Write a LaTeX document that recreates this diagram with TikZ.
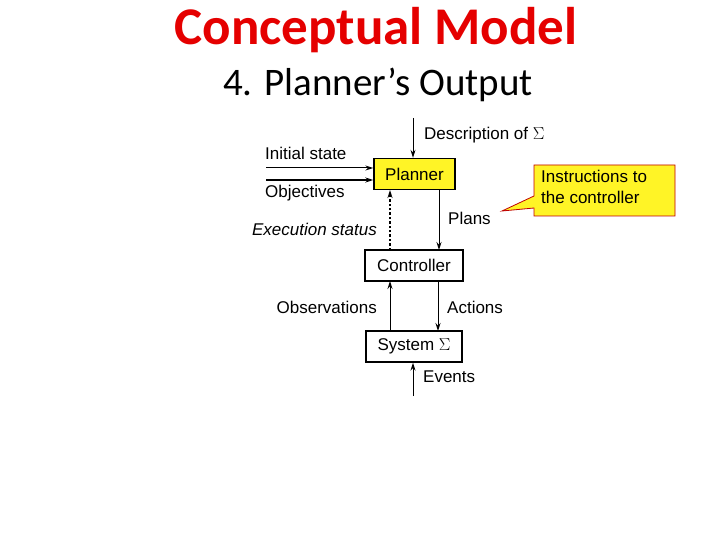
\documentclass[tikz,border=0pt]{standalone}
\usepackage{fontspec}
\setmainfont{Liberation Sans}
\newfontfamily\titlefont{Carlito}
\usetikzlibrary{arrows.meta}
\begin{document}
\begin{tikzpicture}[x=1pt,y=-1pt,
  box/.style={draw,line width=1.4pt,minimum height=31pt,inner sep=0pt,font=\fontsize{17}{19}\selectfont},
  lbl/.style={inner sep=0pt,font=\fontsize{17}{19}\selectfont},
  arr/.style={-{Stealth[length=8pt,width=5pt]},line width=1pt}]
\useasboundingbox[fill=white] (0,0) rectangle (720,540);
\node[font=\titlefont\bfseries\fontsize{53}{58}\selectfont,text=red!90!black] (t) at (376,30) {Conceptual Model};
\node[font=\titlefont\fontsize{39}{44}\selectfont] (s) at (378,85) {4. Planner’s Output};
\node[box,fill=yellow!85!white,minimum width=81pt] (p) at (414.5,174) {Planner};
\node[box,minimum width=98pt] (c) at (414,265.5) {Controller};
\node[box,minimum width=96pt] (sy) at (414,346.5) {System $\Sigma$};
\coordinate (d0) at (413,118);
\coordinate (e0) at (413,396);
\coordinate (i0) at (266,168);
\coordinate (o0) at (266,180);
\draw[arr] (d0) -- (d0|-p.north);
\draw[arr] (e0) -- (e0|-sy.south);
\draw[arr] (i0) -- (i0-|p.west);
\draw[arr,line width=1.8pt] (o0) -- (o0-|p.west);
\draw[arr,line width=2.4pt,dotted] (390,250) -- (390,190);
\draw[arr] (439,190) -- (439,250);
\draw[arr] (390,331) -- (390,281);
\draw[arr] (438,281) -- (438,331);
\node[lbl,anchor=west] (ld) at (424,135) {Description of $\Sigma$};
\node[lbl,anchor=west] (li) at (265,153) {Initial state};
\node[lbl,anchor=west] (lo) at (265,193) {Objectives};
\node[lbl,anchor=east,font=\itshape\fontsize{17}{19}\selectfont] (lx) at (377,229) {Execution status};
\node[lbl,anchor=west] (lp) at (448,218) {Plans};
\node[lbl,anchor=east] (lob) at (377,307) {Observations};
\node[lbl,anchor=west] (la) at (447,307) {Actions};
\node[lbl,anchor=west] (lev) at (423,377) {Events};
\draw[draw=red!75!black,fill=yellow!85!white,line width=0.8pt]
  (534,165) -- (675,165) -- (675,216) -- (534,216) -- (534,208) -- (502,211) -- (534,196) -- cycle;
\node[inner sep=0pt,align=left,anchor=north west,font=\fontsize{17}{21}\selectfont] (cl) at (541,170) {Instructions to\\the controller};
\end{tikzpicture}
\end{document}
